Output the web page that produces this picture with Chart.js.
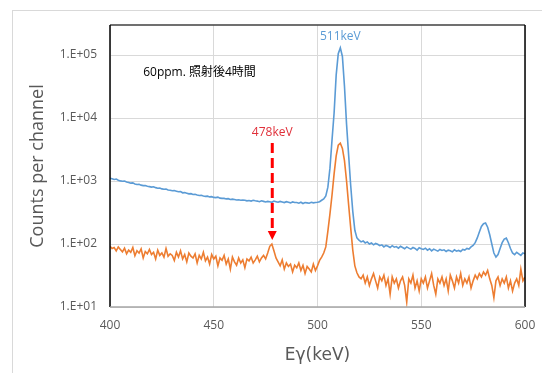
<!DOCTYPE html>
<html>
<head>
<meta charset="utf-8">
<script src="https://cdn.jsdelivr.net/npm/chart.js@4.4.1/dist/chart.umd.min.js"></script>
<style>
  html, body { margin: 0; padding: 0; background: #fff; }
</style>
</head>
<body>
<canvas id="spectrum" width="542" height="373"></canvas>
<script>
// channel energies (keV), 1 keV per channel
const startEnergy = 400;
const channelCount = 201;
const energies = Array.from({ length: channelCount }, (_, i) => startEnergy + i);

// counts per channel, 400..600 keV
const blueCounts = [
  1110, 1085, 1060, 1075, 1030, 1005, 990, 1000, 965, 950,
  925, 935, 900, 880, 890, 860, 845, 850, 825, 815,
  800, 810, 785, 770, 775, 750, 740, 745, 720, 715,
  700, 705, 690, 675, 680, 650, 655, 640, 625, 630,
  610, 615, 600, 590, 595, 580, 570, 575, 560, 565,
  550, 545, 555, 535, 530, 530, 520, 525, 510, 515,
  510, 500, 505, 495, 500, 495, 485, 490, 480, 495,
  485, 480, 470, 485, 475, 465, 475, 470, 460, 480,
  470, 460, 475, 465, 455, 470, 460, 450, 465, 455,
  455, 445, 460, 440, 455, 450, 445, 460, 450, 455,
  460, 470, 495, 520, 580, 800, 1600, 4500, 12000, 48000,
  105000, 130000, 95000, 32000, 8000, 2600, 850, 330, 165, 125,
  115, 108, 112, 104, 108, 100, 104, 97, 102, 99,
  94, 97, 90, 95, 92, 88, 94, 89, 91, 86,
  92, 88, 84, 90, 86, 83, 88, 85, 80, 87,
  84, 82, 86, 80, 84, 78, 83, 80, 77, 82,
  79, 81, 76, 80, 78, 75, 81, 77, 79, 76,
  82, 80, 85, 83, 90, 95, 105, 125, 155, 190,
  210, 215, 185, 140, 100, 72, 62, 68, 85, 105,
  120, 124, 105, 85, 72, 68, 74, 70, 66, 72,
  70
];

const orangeCounts = [
  92, 85, 88, 78, 90, 82, 75, 86, 70, 80,
  74, 88, 65, 78, 72, 84, 60, 76, 70, 82,
  68, 74, 58, 80, 66, 72, 62, 85, 64, 70,
  66, 55, 74, 62, 78, 58, 68, 52, 72, 64,
  60, 70, 50, 66, 58, 74, 54, 62, 48, 68,
  58, 64, 45, 60, 55, 66, 48, 58, 40, 62,
  52, 46, 60, 50, 56, 42, 58, 54, 62, 50,
  56, 64, 52, 60, 66, 58, 72, 92, 100, 78,
  60, 52, 45, 56, 40, 50, 44, 48, 36, 46,
  42, 50, 38, 46, 34, 44, 40, 36, 48, 38,
  45, 55, 62, 72, 90, 160, 300, 600, 1300, 2500,
  3700, 4000, 3300, 2100, 1000, 420, 180, 80, 45, 35,
  30, 28, 32, 24, 30, 22, 28, 34, 26, 20,
  30, 26, 32, 22, 28, 16, 30, 24, 28, 20,
  26, 30, 22, 12, 28, 24, 32, 20, 26, 18,
  28, 24, 30, 20, 26, 34, 22, 16, 28, 24,
  30, 22, 28, 18, 32, 26, 20, 30, 24, 34,
  22, 28, 24, 30, 20, 26, 32, 28, 34, 30,
  36, 32, 38, 28, 22, 14, 26, 30, 22, 28,
  24, 30, 20, 26, 18, 24, 28, 22, 40, 26,
  30
];

const yTicks = [10, 100, 1000, 10000, 100000];

const FONT = "'Open Sans', 'Noto Sans CJK JP', sans-serif";
const AXIS_GRAY = '#595959';

// text labels placed in data coordinates
const notes = [
  { text: '511keV', x: 511, y: 200000, color: '#5b9bd5', align: 'center' },
  { text: '60ppm. 照射後4時間', x: 416, y: 52000, color: '#000000', align: 'left' },
  { text: '478keV', x: 478.2, y: 5800, color: '#e0303a', align: 'center' }
];
const arrow = { x: 478.2, from: 4000, to: 116, color: '#ff0000' };

const annotatePlugin = {
  id: 'annotate',
  beforeDraw(chart) {
    const ctx = chart.ctx;
    ctx.save();
    ctx.strokeStyle = '#d9d9d9';
    ctx.lineWidth = 1;
    ctx.strokeRect(12.5, 10.5, 560, 400);
    ctx.restore();
  },
  afterDatasetsDraw(chart) {
    const { ctx, chartArea: a, scales: { x, y } } = chart;
    ctx.save();

    // plot frame
    ctx.lineWidth = 1.5;
    ctx.strokeStyle = '#404040';
    ctx.beginPath(); ctx.moveTo(a.left, a.top); ctx.lineTo(a.right, a.top); ctx.stroke();
    ctx.strokeStyle = '#000';
    ctx.beginPath(); ctx.moveTo(a.left, a.top); ctx.lineTo(a.left, a.bottom); ctx.stroke();
    ctx.beginPath(); ctx.moveTo(a.right, a.top); ctx.lineTo(a.right, a.bottom); ctx.stroke();
    ctx.strokeStyle = '#a6a6a6';
    ctx.beginPath(); ctx.moveTo(a.left, a.bottom); ctx.lineTo(a.right, a.bottom); ctx.stroke();

    // labels
    ctx.font = '12px ' + FONT;
    ctx.textBaseline = 'middle';
    notes.forEach(n => {
      ctx.fillStyle = n.color;
      ctx.textAlign = n.align;
      ctx.fillText(n.text, x.getPixelForValue(n.x), y.getPixelForValue(n.y));
    });

    // dashed arrow down to the 478 keV peak
    const ax = x.getPixelForValue(arrow.x);
    const y0 = y.getPixelForValue(arrow.from);
    const y1 = y.getPixelForValue(arrow.to);
    ctx.strokeStyle = arrow.color;
    ctx.fillStyle = arrow.color;
    ctx.lineWidth = 3;
    ctx.setLineDash([10, 5]);
    ctx.beginPath(); ctx.moveTo(ax, y0); ctx.lineTo(ax, y1 - 7); ctx.stroke();
    ctx.setLineDash([]);
    ctx.beginPath();
    ctx.moveTo(ax - 4.5, y1 - 9);
    ctx.lineTo(ax + 4.5, y1 - 9);
    ctx.lineTo(ax, y1);
    ctx.closePath();
    ctx.fill();

    ctx.restore();
  }
};

new Chart(document.getElementById('spectrum'), {
  type: 'line',
  data: {
    labels: energies,
    datasets: [
      {
        label: 'A',
        data: blueCounts,
        borderColor: '#5b9bd5',
        borderWidth: 1.6,
        pointRadius: 0,
        tension: 0
      },
      {
        label: 'B',
        data: orangeCounts,
        borderColor: '#ed7d31',
        borderWidth: 1.6,
        pointRadius: 0,
        tension: 0
      }
    ]
  },
  options: {
    responsive: false,
    animation: false,
    layout: { padding: { top: 25, right: 17, left: 0, bottom: 0 } },
    plugins: {
      legend: { display: false },
      tooltip: { enabled: false }
    },
    scales: {
      x: {
        type: 'linear',
        min: 400,
        max: 600,
        afterFit: s => { s.height = 66; s.paddingLeft = 0; s.paddingRight = 0; },
        ticks: {
          stepSize: 50,
          padding: 11,
          color: AXIS_GRAY,
          font: { family: FONT, size: 12 }
        },
        grid: { color: '#d9d9d9', drawTicks: false },
        border: { display: false },
        title: {
          display: true,
          text: 'Eγ(keV)',
          color: AXIS_GRAY,
          font: { family: "'DejaVu Sans', sans-serif", size: 17 },
          padding: { top: 0, bottom: 7 }
        }
      },
      y: {
        type: 'logarithmic',
        min: 10,
        max: 300000,
        afterFit: s => { s.width = 110; s.paddingTop = 0; s.paddingBottom = 0; },
        afterBuildTicks: s => { s.ticks = yTicks.map(v => ({ value: v })); },
        ticks: {
          padding: 13,
          color: AXIS_GRAY,
          font: { family: FONT, size: 12 },
          callback: v => '1.E+' + String(Math.round(Math.log10(v))).padStart(2, '0')
        },
        grid: { color: '#d9d9d9', drawTicks: false },
        border: { display: false },
        title: {
          display: true,
          text: 'Counts per channel',
          color: AXIS_GRAY,
          font: { family: FONT, size: 18 },
          padding: { top: 27, bottom: 0 }
        }
      }
    }
  },
  plugins: [annotatePlugin]
});
</script>
</body>
</html>
